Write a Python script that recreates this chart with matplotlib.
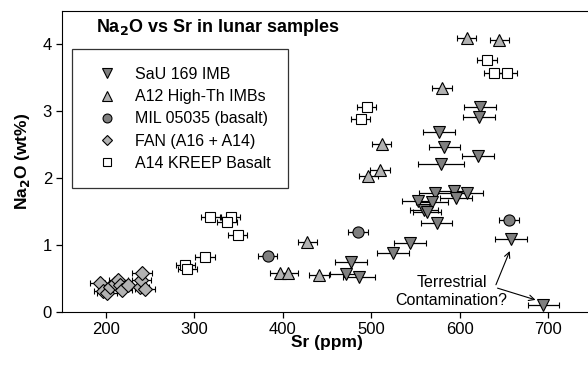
import matplotlib.pyplot as plt
import numpy as np

plt.rcParams['font.family'] = ['Liberation Sans', 'DejaVu Sans']

# SaU 169 IMB
sau_sr = [623, 622, 577, 583, 621, 579, 572, 594, 609, 596, 553, 569, 560, 563, 574, 544, 525, 477, 472, 486, 658, 695]
sau_na = [3.06, 2.91, 2.69, 2.47, 2.33, 2.22, 1.78, 1.81, 1.78, 1.71, 1.66, 1.64, 1.52, 1.49, 1.33, 1.03, 0.88, 0.75, 0.57, 0.52, 1.09, 0.10]
sau_err = [18, 18, 18, 18, 18, 26, 18, 18, 18, 18, 18, 18, 16, 16, 18, 18, 18, 18, 18, 18, 18, 18]

# A12 High-Th IMBs
a12_sr = [608, 645, 580, 512, 510, 497, 428, 441, 397, 406]
a12_na = [4.10, 4.07, 3.35, 2.51, 2.13, 2.03, 1.05, 0.55, 0.58, 0.58]
a12_err = [11, 11, 11, 11, 11, 11, 11, 11, 11, 11]

# MIL 05035 (basalt)
mil_sr = [383, 485, 656]
mil_na = [0.84, 1.19, 1.37]
mil_err = [11, 11, 11]

# FAN (A16 + A14)
fan_sr = [193, 197, 201, 205, 210, 214, 216, 218, 225, 238, 240, 241, 244]
fan_na = [0.43, 0.31, 0.28, 0.38, 0.43, 0.48, 0.40, 0.33, 0.40, 0.38, 0.48, 0.58, 0.34]
fan_err = [11, 11, 11, 11, 11, 11, 11, 11, 11, 11, 11, 11, 11]

# A14 KREEP Basalt
kreep_sr = [631, 639, 654, 495, 488, 318, 341, 337, 349, 312, 290, 292]
kreep_na = [3.76, 3.58, 3.57, 3.07, 2.88, 1.42, 1.42, 1.35, 1.15, 0.82, 0.70, 0.64]
kreep_err = [11, 11, 11, 11, 11, 11, 11, 11, 11, 11, 11, 11]

fig = plt.figure(figsize=(5.88, 3.65), dpi=100)
ax = fig.add_axes([0.105, 0.145, 0.902, 0.825])

eb = dict(ecolor='black', elinewidth=0.9, capsize=2, capthick=0.9, linestyle='none',
          markeredgecolor='black', markeredgewidth=0.8)
ax.errorbar(sau_sr, sau_na, xerr=sau_err, fmt='v', ms=8.5, mfc='#7f7f7f', label='SaU 169 IMB', **eb)
ax.errorbar(a12_sr, a12_na, xerr=a12_err, fmt='^', ms=8.5, mfc='#b2b2b2', label='A12 High-Th IMBs', **eb)
ax.errorbar(mil_sr, mil_na, xerr=mil_err, fmt='o', ms=8, mfc='#7f7f7f', label='MIL 05035 (basalt)', **eb)
ax.errorbar(fan_sr, fan_na, xerr=fan_err, fmt='D', ms=7, mfc='#b2b2b2', label='FAN (A16 + A14)', **eb)
ax.errorbar(kreep_sr, kreep_na, xerr=kreep_err, fmt='s', ms=7.5, mfc='white', label='A14 KREEP Basalt', **eb)

ax.set_xlim(150, 750)
ax.set_ylim(0, 4.5)
ax.set_xticks([200, 300, 400, 500, 600, 700])
ax.set_yticks([0, 1, 2, 3, 4])
ax.tick_params(direction='out', length=4, labelsize=12, width=0.9, pad=3)
ax.spines['right'].set_visible(False)

ax.set_xlabel('Sr (ppm)', fontsize=12.5, fontweight='bold', labelpad=-1)
ax.set_ylabel('Na$_\\mathbf{2}$O (wt%)', fontsize=12.5, fontweight='bold', labelpad=8)

ax.text(0.064, 0.945, 'Na$_\\mathbf{2}$O vs Sr in lunar samples', transform=ax.transAxes,
        fontsize=13, fontweight='bold', va='center', ha='left')

handles, labels = ax.get_legend_handles_labels()
handles = [h[0] for h in handles]
leg = ax.legend(handles, labels, loc='upper left', bbox_to_anchor=(0.02, 0.872), fontsize=11.5,
                frameon=True, fancybox=False, edgecolor='black', handletextpad=0.6,
                labelspacing=0.45, borderpad=1.1, handlelength=2.2, markerscale=0.8,
                borderaxespad=0)
leg.get_frame().set_linewidth(0.9)

ax.annotate('', xy=(658, 0.95), xytext=(640, 0.37),
            arrowprops=dict(arrowstyle='->', color='black', lw=0.8))
ax.annotate('', xy=(689, 0.17), xytext=(640, 0.37),
            arrowprops=dict(arrowstyle='->', color='black', lw=0.8))
ax.text(591, 0.31, 'Terrestrial\nContamination?', fontsize=11.5, ha='center', va='center',
        linespacing=1.3)

fig.savefig('out.png', dpi=100)
